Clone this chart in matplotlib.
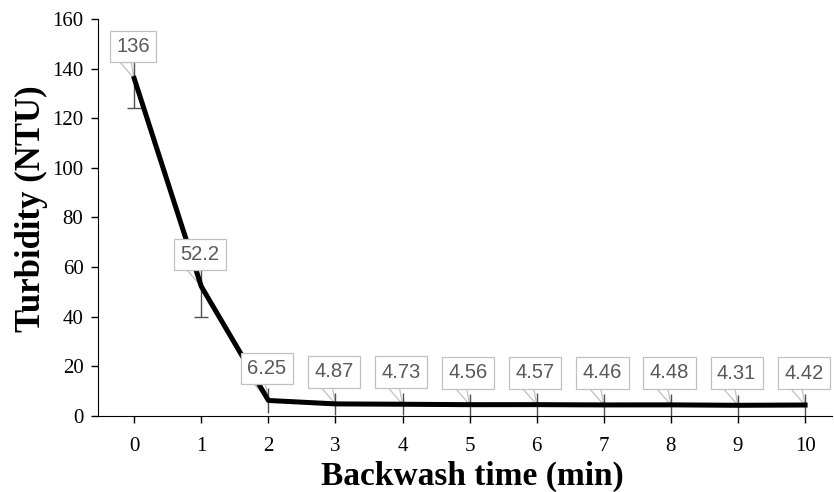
import matplotlib.pyplot as plt
import matplotlib.transforms as mtransforms
from matplotlib.patches import Polygon

# dados
tempo = [0, 1, 2, 3, 4, 5, 6, 7, 8, 9, 10]
turbidez = [136, 52.2, 6.25, 4.87, 4.73, 4.56, 4.57, 4.46, 4.48, 4.31, 4.42]
erro = [12, 12.5, 5, 4.5, 4.5, 4.5, 4.5, 4.4, 4.4, 4.3, 4.4]
rotulos = ['136', '52.2', '6.25', '4.87', '4.73', '4.56', '4.57', '4.46', '4.48', '4.31', '4.42']

plt.rcParams['font.family'] = ['Liberation Serif', 'DejaVu Serif']

fig = plt.figure(figsize=(8.34, 4.92), dpi=100)
ax = fig.add_axes([0.1175, 0.1545, 0.88, 0.807])

# barras de erro: as duas primeiras com "cap", as outras sem
ax.errorbar(tempo[:2], turbidez[:2], yerr=erro[:2], fmt='none', ecolor='#505050',
            elinewidth=1, capsize=5, capthick=1, zorder=4)
ax.errorbar(tempo[2:], turbidez[2:], yerr=erro[2:], fmt='none', ecolor='#505050',
            elinewidth=1, capsize=0, zorder=4)
ax.plot(tempo, turbidez, color='black', lw=3.6, zorder=4.5)

# caixas com os valores (estilo "callout")
for x, y, r in zip(tempo, turbidez, rotulos):
    trans = fig.dpi_scale_trans + mtransforms.ScaledTranslation(x, y, ax.transData)
    ponta = Polygon([(0.0, 0.0), (-0.14, 0.16), (-0.03, 0.16)], closed=True,
                    transform=trans, fc='white', ec='#c0c0c0', lw=0.9, zorder=3.5)
    ax.add_patch(ponta)
    ax.annotate(r, xy=(x, y), xytext=(-1, 23), textcoords='offset points',
                ha='center', va='center', fontsize=14.5, color='#595959',
                family=['Liberation Sans', 'DejaVu Sans'],
                bbox=dict(boxstyle='square,pad=0.32', fc='white', ec='#c0c0c0', lw=0.9),
                zorder=5)

ax.set_xlim(-0.54, 10.4)
ax.set_ylim(0, 160)
ax.set_xticks(tempo)
ax.set_yticks(range(0, 161, 20))

ax.spines['top'].set_visible(False)
ax.spines['right'].set_visible(False)
ax.tick_params(axis='both', direction='out', length=5, width=1, labelsize=15)
ax.tick_params(axis='y', pad=5.5)
ax.tick_params(axis='x', pad=10)

ax.set_xlabel('Backwash time (min)', fontsize=24, fontweight='bold', labelpad=3.5, x=0.51)
ax.set_ylabel('Turbidity (NTU)', fontsize=25, fontweight='bold', labelpad=3, y=0.521)

plt.savefig('out.png', dpi=100)
